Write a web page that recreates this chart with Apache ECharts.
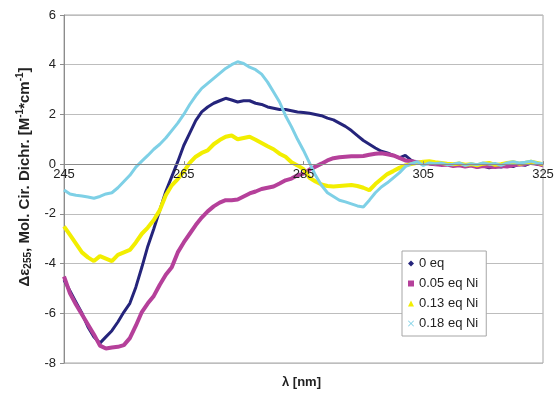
<!DOCTYPE html>
<html>
<head>
<meta charset="utf-8">
<script src="https://cdn.jsdelivr.net/npm/echarts@6/dist/echarts.min.js"></script>
<style>
  html, body { margin: 0; padding: 0; background: #fff; }
  #chart { width: 557px; height: 394px; }
</style>
</head>
<body>
<div id="chart"></div>
<script>
// wavelength grid, 1 nm steps
const wavelengths = [];
for (let w = 245; w <= 325; w++) wavelengths.push(w);

const xTicks = [245, 265, 285, 305, 325];
const yTicks = [-8, -6, -4, -2, 0, 2, 4, 6];

const seriesNames = ['0 eq', '0.05 eq Ni', '0.13 eq Ni', '0.18 eq Ni'];
const seriesColors = ['#25247b', '#b5409a', '#f2ee00', '#7ed0e6'];

// values, 245..325 nm
const eq0 = [
  -4.66, -5.1, -5.55, -6.0, -6.55, -6.95, -7.2, -6.95, -6.7, -6.35,
  -5.95, -5.6, -4.95, -4.15, -3.3, -2.6, -1.85, -1.1, -0.5, 0.1,
  0.75, 1.25, 1.75, 2.1, 2.3, 2.45, 2.55, 2.65, 2.58, 2.5,
  2.55, 2.55, 2.45, 2.4, 2.3, 2.25, 2.2, 2.2, 2.15, 2.1,
  2.08, 2.05, 2.0, 1.95, 1.85, 1.78, 1.65, 1.52, 1.35, 1.15,
  0.95, 0.8, 0.65, 0.52, 0.45, 0.35, 0.25, 0.35, 0.15, 0.05,
  0.08, 0.02, 0.0, -0.02, 0.0, -0.05, -0.02, -0.08, -0.05, -0.12,
  -0.08, -0.15, -0.1, -0.12, -0.05, -0.1, 0.0, -0.05, 0.05, 0.0,
  -0.02
];
const eq005 = [
  -4.52, -5.2, -5.65, -6.05, -6.45, -6.85, -7.3, -7.42, -7.38, -7.35,
  -7.28, -7.0, -6.5, -5.95, -5.6, -5.3, -4.85, -4.45, -4.15, -3.55,
  -3.15, -2.8, -2.45, -2.15, -1.9, -1.7, -1.55, -1.45, -1.45, -1.42,
  -1.3, -1.18, -1.1, -1.0, -0.95, -0.9, -0.78, -0.65, -0.58, -0.45,
  -0.38, -0.22, -0.1, 0.02, 0.15, 0.24, 0.28, 0.3, 0.32, 0.32,
  0.33, 0.38, 0.42, 0.44, 0.4, 0.35, 0.25, 0.15, 0.12, 0.08,
  0.05, 0.03, 0.0, -0.03, -0.02, -0.08, -0.05, -0.1, -0.06, -0.12,
  -0.08, -0.1, -0.12, -0.08, -0.1, -0.05, -0.02, 0.0, 0.05, 0.02,
  -0.05
];
const eq013 = [
  -2.5, -2.85, -3.2, -3.55, -3.75, -3.9, -3.7, -3.8, -3.9, -3.65,
  -3.55, -3.45, -3.15, -2.8, -2.55, -2.25, -1.85, -1.25, -0.85, -0.6,
  -0.3, 0.05, 0.3, 0.45, 0.55, 0.8, 0.97, 1.1, 1.15, 1.0,
  1.05, 1.1, 0.98, 0.85, 0.72, 0.6, 0.42, 0.3, 0.08, -0.05,
  -0.2, -0.55, -0.7, -0.82, -0.88, -0.9, -0.88, -0.86, -0.84, -0.88,
  -0.95, -1.05, -0.8, -0.6, -0.4, -0.28, -0.15, -0.05, 0.0, 0.05,
  0.1, 0.12, 0.08, 0.05, 0.02, 0.0, 0.03, -0.02, 0.0, -0.05,
  0.02, 0.05, -0.03, 0.0, 0.05, 0.08, 0.02, 0.05, 0.1, 0.05,
  0.0
];
const eq018 = [
  -1.04, -1.2, -1.25, -1.28, -1.32, -1.37, -1.3, -1.2, -1.15, -0.95,
  -0.7, -0.45, -0.12, 0.12, 0.35, 0.6, 0.8, 1.05, 1.35, 1.65,
  2.0, 2.4, 2.75, 3.05, 3.25, 3.45, 3.65, 3.85, 4.0, 4.12,
  4.05, 3.9, 3.8, 3.62, 3.3, 2.9, 2.5, 1.95, 1.5, 1.0,
  0.55, 0.05, -0.45, -0.85, -1.15, -1.3, -1.45, -1.52, -1.6, -1.68,
  -1.72, -1.45, -1.15, -0.92, -0.75, -0.55, -0.35, -0.1, 0.02, 0.1,
  -0.05, 0.05, 0.02, 0.05, -0.02, 0.0, 0.05, -0.05, 0.02, -0.02,
  0.05, 0.0, 0.03, -0.05, 0.05, 0.1, 0.05, 0.08, 0.12, 0.05,
  0.02
];

const allValues = [eq0, eq005, eq013, eq018];
const lineWidths = [3, 4, 4, 3];
const legendIcons = [
  'diamond',
  'rect',
  'triangle',
  'path://M0,1L1,0L5,4L9,0L10,1L6,5L10,9L9,10L5,6L1,10L0,9L4,5Z'
];

const font = '"Liberation Sans", Arial, sans-serif';

const gridTop = 15, gridBottom = 31, chartH = 394;
const plotH = chartH - gridTop - gridBottom;
const yMin = yTicks[0], yMax = yTicks[yTicks.length - 1];
// move the x axis (line + labels) up to the y = 0 line, like Excel does
const zeroOffset = -(0 - yMin) / (yMax - yMin) * plotH;

const chart = echarts.init(document.getElementById('chart'), null, { renderer: 'canvas' });

const option = {
  animation: false,
  backgroundColor: '#fff',
  textStyle: { fontFamily: font },
  grid: {
    left: 64, right: 14, top: gridTop, bottom: gridBottom,
    show: true, borderColor: '#a6a6a6', borderWidth: 1
  },
  xAxis: {
    type: 'value',
    z: 5,
    min: xTicks[0], max: xTicks[xTicks.length - 1], interval: 20,
    offset: zeroOffset,
    axisLine: { onZero: false, lineStyle: { color: '#8c8c8c', width: 1 } },
    axisTick: { show: true, inside: true, length: 3, lineStyle: { color: '#8c8c8c' } },
    axisLabel: { color: '#222', fontSize: 13, margin: 4, fontFamily: font },
    splitLine: { show: false }
  },
  yAxis: {
    type: 'value',
    min: yMin, max: yMax, interval: 2,
    axisLine: { show: true, onZero: false, lineStyle: { color: '#8c8c8c', width: 1 } },
    axisTick: { show: true, length: 4, lineStyle: { color: '#8c8c8c' } },
    axisLabel: { color: '#222', fontSize: 13, margin: 8, fontFamily: font },
    splitLine: { show: true, lineStyle: { color: '#bdbdbd', width: 1 } },
    name: '{b|Δε}{sub|255}{b|, Mol. Cir. Dichr. [M}{sup|-1}{b|*cm}{sup|-1}{b|]}',
    nameLocation: 'middle',
    nameRotate: 90,
    nameGap: 25,
    nameTextStyle: {
      padding: [0, 0, 0, 24],
      rich: {
        b: { fontSize: 15, fontWeight: 'bold', color: '#222', fontFamily: font, lineHeight: 18, verticalAlign: 'middle' },
        sub: { fontSize: 10, fontWeight: 'bold', color: '#222', fontFamily: font, lineHeight: 18, verticalAlign: 'bottom' },
        sup: { fontSize: 10, fontWeight: 'bold', color: '#222', fontFamily: font, lineHeight: 18, verticalAlign: 'top' }
      }
    }
  },
  legend: {
    orient: 'vertical',
    left: 402, top: 251,
    backgroundColor: '#fff',
    borderColor: '#a6a6a6', borderWidth: 1,
    padding: [6, 8, 6, 6],
    itemGap: 7,
    itemWidth: 6, itemHeight: 6,
    textStyle: { fontSize: 13, color: '#222', fontFamily: font, lineHeight: 13 },
    data: seriesNames.map((n, i) => ({ name: n, icon: legendIcons[i] }))
  },
  graphic: [{
    type: 'text',
    left: 304 - 22, top: 376,
    style: { text: 'λ [nm]', fontSize: 13, fontWeight: 'bold', fill: '#222', fontFamily: font }
  }],
  series: seriesNames.map((n, i) => ({
    name: n,
    type: 'line',
    data: wavelengths.map((w, k) => [w, allValues[i][k]]),
    showSymbol: false,
    symbolSize: 5,
    itemStyle: { color: seriesColors[i] },
    lineStyle: { color: seriesColors[i], width: lineWidths[i] }
  }))
};

chart.setOption(option);
</script>
</body>
</html>
